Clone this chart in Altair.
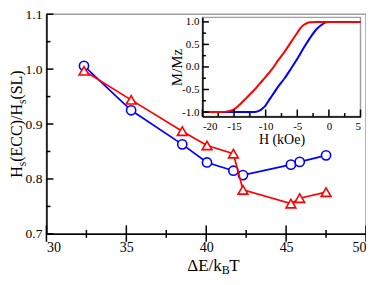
import altair as alt
import pandas as pd

# ---------------- data ----------------
dE = [32.35, 35.3, 38.5, 40.05, 41.7, 42.3, 45.3, 45.85, 47.5]
ratio_circle = [1.006, 0.925, 0.863, 0.830, 0.815, 0.807, 0.826, 0.831, 0.843]
ratio_triangle = [0.997, 0.944, 0.887, 0.861, 0.846, 0.780, 0.755, 0.765, 0.776]

H_red = [-20, -17, -16, -15, -14, -13, -12, -11, -10, -9, -8, -7, -6, -5, -4.5, -4, -3.5, -3, -2, 5]
M_red = [-1.0, -1.0, -0.985, -0.94, -0.82, -0.68, -0.54, -0.38, -0.22, -0.05, 0.15, 0.34, 0.55, 0.76,
         0.86, 0.93, 0.97, 0.99, 1.0, 1.0]
H_blue = [-20, -12, -11.5, -11, -10.5, -10, -9.4, -9, -8, -7, -6, -5, -4, -3, -2, -1.2, -0.5, 0, 5]
M_blue = [-1.0, -1.0, -0.995, -0.97, -0.92, -0.85, -0.72, -0.64, -0.43, -0.25, -0.04, 0.18, 0.42, 0.64,
          0.83, 0.93, 0.99, 1.0, 1.0]

x_major = [30, 35, 40, 45, 50]
x_minor = [32.5, 37.5, 42.5, 47.5]
y_major = [0.7, 0.8, 0.9, 1.0, 1.1]
y_minor = [0.75, 0.85, 0.95, 1.05]
ix_major = [-20, -15, -10, -5, 0, 5]
ix_minor = [-17.5, -12.5, -7.5, -2.5, 2.5]
iy_major = [-1.0, -0.5, 0.0, 0.5, 1.0]
iy_minor = [-0.75, -0.25, 0.25, 0.75]

y_title_parts = ["H", "s", "(ECC)/H", "s", "(SL)"]
x_title_parts = ["ΔE/k", "B", "T"]
inset_x_title = "H (kOe)"
inset_y_title = "M/Mz"

# ---------------- layout ----------------
FONT = "Liberation Serif"
W, H = 320, 220
PAD_L, PAD_T = 38.5, 6
BLUE, RED = "#0000ff", "#ff0000"
FRAME = "#a0a0a0"

# inset placement (pixels relative to main plot origin)
IX0, IX1 = 156.2, 314.5
IY_TOP, IY_BOT = 3.2, 102.5

xs = alt.Scale(domain=[30, 50], nice=False, zero=False)
ys = alt.Scale(domain=[0.7, 1.1], nice=False, zero=False)
ixs = alt.Scale(domain=[-20, 5], range=[IX0, IX1], nice=False, zero=False)
iys = alt.Scale(domain=[-1.1, 1.1], range=[IY_BOT, IY_TOP], nice=False, zero=False)

main_df = pd.DataFrame({"dE": dE, "c": ratio_circle, "t": ratio_triangle})

x_axis = alt.Axis(orient="bottom", values=x_major, format="d", ticks=False, grid=False, title=None,
                  domainColor="black", domainWidth=1.5, labelFont=FONT, labelFontSize=14,
                  labelColor="black", labelPadding=7)
y_axis = alt.Axis(orient="left", values=y_major, format=".1f", ticks=False, grid=False, title=None,
                  domainColor="black", domainWidth=1.5, labelFont=FONT, labelFontSize=13.5,
                  labelColor="black", labelPadding=4.5)

base = alt.Chart(main_df)
blue_line = base.mark_line(color=BLUE, strokeWidth=1.7).encode(
    x=alt.X("dE:Q", scale=xs, axis=x_axis), y=alt.Y("c:Q", scale=ys, axis=y_axis))
blue_pts = base.mark_point(shape="circle", size=85, filled=True, fill="white", stroke=BLUE,
                           strokeWidth=1.6, opacity=1).encode(
    x=alt.X("dE:Q", scale=xs, axis=None), y=alt.Y("c:Q", scale=ys, axis=None))
red_line = base.mark_line(color=RED, strokeWidth=1.7).encode(
    x=alt.X("dE:Q", scale=xs, axis=None), y=alt.Y("t:Q", scale=ys, axis=None))
red_pts = base.mark_point(shape="triangle-up", size=95, filled=True, fill="white", stroke=RED,
                          strokeWidth=1.6, opacity=1).encode(
    x=alt.X("dE:Q", scale=xs, axis=None), y=alt.Y("t:Q", scale=ys, axis=None))

def xticks(vals, y1, y2, scale, width=1.5):
    return alt.Chart(pd.DataFrame({"v": vals})).mark_rule(color="black", strokeWidth=width).encode(
        x=alt.X("v:Q", scale=scale, axis=None), y=alt.value(y1), y2=alt.value(y2))

def yticks(vals, x1, x2, scale, width=1.5):
    return alt.Chart(pd.DataFrame({"v": vals})).mark_rule(color="black", strokeWidth=width).encode(
        y=alt.Y("v:Q", scale=scale, axis=None), x=alt.value(x1), x2=alt.value(x2))

main_ticks = [
    xticks(x_major, H - 8.5, H + 8, xs),
    xticks(x_minor, H - 4, H + 4, xs),
    yticks(y_major, 0, 7, ys),
    yticks(y_minor, 0, 4, ys),
]

def label(txt, x, y, size, angle=0, align="left"):
    return alt.Chart(pd.DataFrame({"t": [txt]})).mark_text(
        font=FONT, fontSize=size, angle=angle, align=align, baseline="alphabetic", color="black"
    ).encode(text="t:N", x=alt.value(x), y=alt.value(y))

# x title: ΔE/k_B T
XT_BASE = H + 37
x_title = [
    label(x_title_parts[0], 175.5, XT_BASE, 17, align="right"),
    label(x_title_parts[1], 175.5, XT_BASE + 3, 12),
    label(x_title_parts[2], 183.0, XT_BASE, 17),
]

# y title: H_s(ECC)/H_s(SL), rotated
BIG, SMALL = 16, 11.5
wH = 0.722 * BIG
ws = 0.389 * SMALL
wmid = 3.611 * BIG
wend = 1.833 * BIG
total = wH + ws + wmid + ws + wend
YX = -24
y0 = H / 2 + total / 2
y_title = [
    label(y_title_parts[0], YX, y0, BIG, angle=270),
    label(y_title_parts[1], YX + 3.5, y0 - wH, SMALL, angle=270),
    label(y_title_parts[2], YX, y0 - wH - ws, BIG, angle=270),
    label(y_title_parts[3], YX + 3.5, y0 - wH - ws - wmid, SMALL, angle=270),
    label(y_title_parts[4], YX, y0 - wH - ws - wmid - ws, BIG, angle=270),
]

# ---------------- inset ----------------
frame_df = pd.DataFrame({"x0": [-20], "x1": [5], "y0": [-1.1], "y1": [1.1]})
neg_fmt_d = "datum.value < 0 ? '-' + format(-datum.value, 'd') : format(datum.value, 'd')"
neg_fmt_f = "datum.value < 0 ? '-' + format(-datum.value, '.1f') : format(datum.value, '.1f')"

ix_axis = alt.Axis(orient="bottom", values=ix_major, labelExpr=neg_fmt_d, ticks=False, grid=False,
                   title=inset_x_title, titleFont=FONT, titleFontSize=14, titleFontWeight="normal",
                   titleColor="black", titlePadding=1,
                   domainColor="black", domainWidth=1.5, labelFont=FONT, labelFontSize=11,
                   labelColor="black", labelPadding=4,
                   offset=-(H - IY_BOT), zindex=2)
iy_axis = alt.Axis(orient="left", values=iy_major, labelExpr=neg_fmt_f, ticks=False, grid=False,
                   title=inset_y_title, titleFont=FONT, titleFontSize=15, titleFontWeight="normal",
                   titleColor="black", titleAngle=270, titleAlign="center", titleBaseline="alphabetic",
                   titleX=-21, titleY=(IY_TOP + IY_BOT) / 2,
                   domainColor="black", domainWidth=1.5, labelFont=FONT, labelFontSize=11,
                   labelColor="black", labelPadding=3.5,
                   offset=-IX0, zindex=2)

frame = alt.Chart(frame_df).mark_rect(fill="white", stroke=FRAME, strokeWidth=1.5).encode(
    x=alt.X("x0:Q", scale=ixs, axis=ix_axis), x2="x1:Q",
    y=alt.Y("y0:Q", scale=iys, axis=iy_axis), y2="y1:Q")

red_df = pd.DataFrame({"h": H_red, "m": M_red})
blue_df = pd.DataFrame({"h": H_blue, "m": M_blue})
inset_red = alt.Chart(red_df).mark_line(color=RED, strokeWidth=2, interpolate="monotone").encode(
    x=alt.X("h:Q", scale=ixs, axis=None), y=alt.Y("m:Q", scale=iys, axis=None))
inset_blue = alt.Chart(blue_df).mark_line(color=BLUE, strokeWidth=2, interpolate="monotone").encode(
    x=alt.X("h:Q", scale=ixs, axis=None), y=alt.Y("m:Q", scale=iys, axis=None))

inset_ticks = [
    xticks(ix_major, IY_BOT, IY_BOT - 7, ixs),
    xticks(ix_minor, IY_BOT, IY_BOT - 3.5, ixs),
    yticks(iy_major, IX0, IX0 + 6.5, iys),
    yticks(iy_minor, IX0, IX0 + 3.5, iys),
]

layers = [blue_line, blue_pts, red_line, red_pts, *main_ticks, *x_title, *y_title,
          frame, inset_blue, inset_red, *inset_ticks]

chart = alt.layer(*layers).resolve_scale(x="independent", y="independent").properties(
    width=W, height=H,
    padding={"left": PAD_L, "top": PAD_T, "right": 0, "bottom": 269 - PAD_T - H},
    autosize=alt.AutoSizeParams(type="none"),
).configure_view(stroke=FRAME, strokeWidth=1.5)

chart.save("out.html", embed_options={"renderer": "svg", "actions": False})
